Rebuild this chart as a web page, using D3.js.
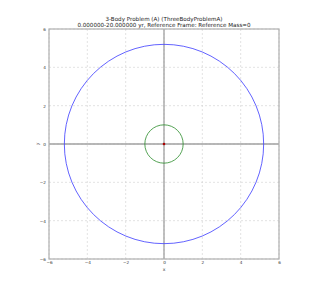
<!DOCTYPE html>
<html><head><meta charset="utf-8">
<script src="https://cdn.jsdelivr.net/npm/d3@7"></script>
<style>body{margin:0;background:#fff}svg{display:block}text{font-family:"DejaVu Sans",sans-serif}</style>
</head><body>
<svg id="c" width="320" height="289"></svg>
<script>
const titleLines = ["3-Body Problem (A) (ThreeBodyProblemA)", "0.000000-20.000000 yr, Reference Frame: Reference Mass=0"];
const xTicks = [-6, -4, -2, 0, 2, 4, 6];
const yTicks = [-6, -4, -2, 0, 2, 4, 6];
const bodyNames = ["outer", "inner", "reference"];
const orbitRadii = [5.2, 1.0, 0];
const bodyColors = ["#3b3bff", "#2a8c2a", "#aa0000"];

const svg = d3.select("#c");
const L = 49, R = 279, T = 29, B = 259;
const x = d3.scaleLinear().domain([-6, 6]).range([L, R]);
const y = d3.scaleLinear().domain([-6, 6]).range([B, T]);

// grid
const g = svg.append("g");
g.selectAll(".gx").data(xTicks).enter().append("line")
  .attr("x1", d => x(d)).attr("x2", d => x(d)).attr("y1", T).attr("y2", B)
  .attr("stroke", "#d0d0d0").attr("stroke-width", 0.6).attr("stroke-dasharray", "2,2");
g.selectAll(".gy").data(yTicks).enter().append("line")
  .attr("y1", d => y(d)).attr("y2", d => y(d)).attr("x1", L).attr("x2", R)
  .attr("stroke", "#d0d0d0").attr("stroke-width", 0.6).attr("stroke-dasharray", "2,2");

// zero lines
svg.append("line").attr("x1", x(0)).attr("x2", x(0)).attr("y1", T).attr("y2", B)
  .attr("stroke", "#a0a0a0").attr("stroke-width", 1.3);
svg.append("line").attr("y1", y(0)).attr("y2", y(0)).attr("x1", L).attr("x2", R)
  .attr("stroke", "#a0a0a0").attr("stroke-width", 1.3);

// orbits
orbitRadii.forEach((r, i) => {
  if (r > 0) {
    svg.append("circle").attr("cx", x(0)).attr("cy", y(0))
      .attr("r", x(r) - x(0)).attr("fill", "none")
      .attr("stroke", bodyColors[i]).attr("stroke-width", 0.8);
  } else {
    svg.append("circle").attr("cx", x(0)).attr("cy", y(0)).attr("r", 1.3)
      .attr("fill", bodyColors[i]);
  }
});

// frame
svg.append("rect").attr("x", L).attr("y", T).attr("width", R - L).attr("height", B - T)
  .attr("fill", "none").attr("stroke", "#b0b0b0").attr("stroke-width", 1.2);

// axes
const fmt = d => d < 0 ? "\u2212" + Math.abs(d) : d;
const xa = svg.append("g").attr("transform", `translate(0,${B})`)
  .call(d3.axisBottom(x).tickValues(xTicks).tickSize(0).tickPadding(2).tickFormat(fmt));
const ya = svg.append("g").attr("transform", `translate(${L},0)`)
  .call(d3.axisLeft(y).tickValues(yTicks).tickSize(0).tickPadding(3).tickFormat(fmt));
[xa, ya].forEach(a => {
  a.select(".domain").remove();
  a.selectAll("text").attr("font-size", 4.2).attr("fill", "#333").style("font-family", "DejaVu Sans");
});

svg.append("text").attr("x", x(0)).attr("y", 270.5).attr("text-anchor", "middle")
  .attr("font-size", 4.6).attr("fill", "#333").text("x");
svg.append("text").attr("x", 38).attr("y", y(0)).attr("text-anchor", "middle")
  .attr("dominant-baseline", "middle").attr("font-size", 4.6).attr("fill", "#333")
  .attr("transform", `rotate(-90,38,${y(0)})`).text("y");

svg.selectAll(".title").data(titleLines).enter().append("text")
  .attr("x", x(0)).attr("y", (d, i) => 21 + i * 6).attr("text-anchor", "middle")
  .attr("font-size", 5.6).attr("fill", "#222").text(d => d);
</script>
</body></html>
